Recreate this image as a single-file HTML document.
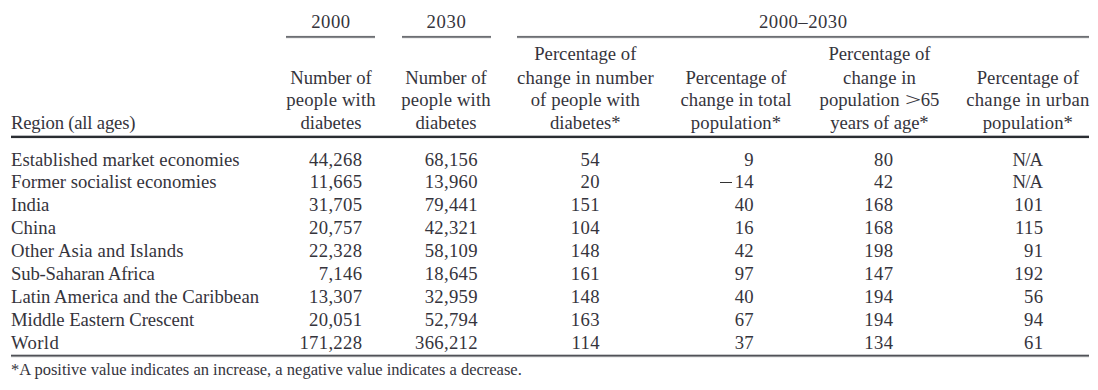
<!DOCTYPE html>
<html><head><meta charset="utf-8"><style>
html,body{margin:0;padding:0;background:#fff;width:1098px;height:390px;overflow:hidden;position:relative}
.t{position:absolute;font-family:"Liberation Serif",serif;color:#35343c;white-space:nowrap;line-height:normal}
.gt{display:inline-block;transform:scaleX(1.55);margin:0 2.6px 0 3.4px}
.r{position:absolute}
</style></head><body>

<div class="t" style="left:30.95px;width:600px;top:11.04px;font-size:18.7px;text-align:center;letter-spacing:0.5px;">2000</div>
<div class="t" style="left:146.50px;width:600px;top:11.04px;font-size:18.7px;text-align:center;letter-spacing:0.6px;">2030</div>
<div class="t" style="left:503.25px;width:600px;top:11.04px;font-size:18.7px;text-align:center;letter-spacing:0.5px;">2000–2030</div>
<div class="t" style="left:11.00px;top:112.04px;font-size:18.7px;letter-spacing:-0.2px;">Region (all ages)</div>
<div class="t" style="left:31.00px;width:600px;top:67.04px;font-size:18.7px;text-align:center;">Number of</div>
<div class="t" style="left:31.08px;width:600px;top:89.04px;font-size:18.7px;text-align:center;letter-spacing:0.16px;">people with</div>
<div class="t" style="left:31.00px;width:600px;top:112.04px;font-size:18.7px;text-align:center;">diabetes</div>
<div class="t" style="left:146.00px;width:600px;top:67.04px;font-size:18.7px;text-align:center;">Number of</div>
<div class="t" style="left:146.08px;width:600px;top:89.04px;font-size:18.7px;text-align:center;letter-spacing:0.16px;">people with</div>
<div class="t" style="left:146.00px;width:600px;top:112.04px;font-size:18.7px;text-align:center;">diabetes</div>
<div class="t" style="left:285.30px;width:600px;top:43.04px;font-size:18.7px;text-align:center;">Percentage of</div>
<div class="t" style="left:285.39px;width:600px;top:67.04px;font-size:18.7px;text-align:center;letter-spacing:0.19px;">change in number</div>
<div class="t" style="left:285.35px;width:600px;top:89.04px;font-size:18.7px;text-align:center;letter-spacing:0.1px;">of people with</div>
<div class="t" style="left:285.30px;width:600px;top:112.04px;font-size:18.7px;text-align:center;">diabetes*</div>
<div class="t" style="left:435.95px;width:600px;top:67.04px;font-size:18.7px;text-align:center;letter-spacing:-0.1px;">Percentage of</div>
<div class="t" style="left:436.04px;width:600px;top:89.04px;font-size:18.7px;text-align:center;letter-spacing:0.08px;">change in total</div>
<div class="t" style="left:436.05px;width:600px;top:112.04px;font-size:18.7px;text-align:center;letter-spacing:0.1px;">population*</div>
<div class="t" style="left:579.50px;width:600px;top:43.04px;font-size:18.7px;text-align:center;">Percentage of</div>
<div class="t" style="left:579.55px;width:600px;top:67.04px;font-size:18.7px;text-align:center;letter-spacing:0.1px;">change in</div>
<div class="t" style="left:579.50px;width:600px;top:89.04px;font-size:18.7px;text-align:center;">population <span class="gt">&gt;</span>65</div>
<div class="t" style="left:579.45px;width:600px;top:112.04px;font-size:18.7px;text-align:center;letter-spacing:-0.1px;">years of age*</div>
<div class="t" style="left:727.80px;width:600px;top:67.04px;font-size:18.7px;text-align:center;">Percentage of</div>
<div class="t" style="left:727.94px;width:600px;top:89.04px;font-size:18.7px;text-align:center;letter-spacing:0.28px;">change in urban</div>
<div class="t" style="left:727.85px;width:600px;top:112.04px;font-size:18.7px;text-align:center;letter-spacing:0.1px;">population*</div>
<div class="t" style="left:11.00px;top:149.04px;font-size:18.7px;letter-spacing:0.05px;">Established market economies</div>
<div class="t" style="left:0;width:362.30px;top:149.04px;font-size:18.7px;text-align:right;letter-spacing:0.3px;">44,268</div>
<div class="t" style="left:0;width:477.90px;top:149.04px;font-size:18.7px;text-align:right;letter-spacing:0.3px;">68,156</div>
<div class="t" style="left:0;width:599.80px;top:149.04px;font-size:18.7px;text-align:right;letter-spacing:0.3px;">54</div>
<div class="t" style="left:0;width:754.00px;top:149.04px;font-size:18.7px;text-align:right;letter-spacing:0.3px;">9</div>
<div class="t" style="left:0;width:893.30px;top:149.04px;font-size:18.7px;text-align:right;letter-spacing:0.3px;">80</div>
<div class="t" style="left:0;width:1042.10px;top:149.04px;font-size:18.7px;text-align:right;letter-spacing:-0.9px;">N/A</div>
<div class="t" style="left:11.00px;top:171.04px;font-size:18.7px;">Former socialist economies</div>
<div class="t" style="left:0;width:362.30px;top:171.04px;font-size:18.7px;text-align:right;letter-spacing:0.3px;">11,665</div>
<div class="t" style="left:0;width:477.90px;top:171.04px;font-size:18.7px;text-align:right;letter-spacing:0.3px;">13,960</div>
<div class="t" style="left:0;width:599.80px;top:171.04px;font-size:18.7px;text-align:right;letter-spacing:0.3px;">20</div>
<div class="t" style="left:0;width:754.00px;top:171.04px;font-size:18.7px;text-align:right;letter-spacing:0.3px;">14</div>
<div class="t" style="left:0;width:893.30px;top:171.04px;font-size:18.7px;text-align:right;letter-spacing:0.3px;">42</div>
<div class="t" style="left:0;width:1042.10px;top:171.04px;font-size:18.7px;text-align:right;letter-spacing:-0.9px;">N/A</div>
<div class="t" style="left:11.00px;top:194.04px;font-size:18.7px;">India</div>
<div class="t" style="left:0;width:362.30px;top:194.04px;font-size:18.7px;text-align:right;letter-spacing:0.3px;">31,705</div>
<div class="t" style="left:0;width:477.90px;top:194.04px;font-size:18.7px;text-align:right;letter-spacing:0.3px;">79,441</div>
<div class="t" style="left:0;width:599.80px;top:194.04px;font-size:18.7px;text-align:right;letter-spacing:0.3px;">151</div>
<div class="t" style="left:0;width:754.00px;top:194.04px;font-size:18.7px;text-align:right;letter-spacing:0.3px;">40</div>
<div class="t" style="left:0;width:893.30px;top:194.04px;font-size:18.7px;text-align:right;letter-spacing:0.3px;">168</div>
<div class="t" style="left:0;width:1043.30px;top:194.04px;font-size:18.7px;text-align:right;letter-spacing:0.3px;">101</div>
<div class="t" style="left:11.00px;top:217.04px;font-size:18.7px;letter-spacing:0.1px;">China</div>
<div class="t" style="left:0;width:362.30px;top:217.04px;font-size:18.7px;text-align:right;letter-spacing:0.3px;">20,757</div>
<div class="t" style="left:0;width:477.90px;top:217.04px;font-size:18.7px;text-align:right;letter-spacing:0.3px;">42,321</div>
<div class="t" style="left:0;width:599.80px;top:217.04px;font-size:18.7px;text-align:right;letter-spacing:0.3px;">104</div>
<div class="t" style="left:0;width:754.00px;top:217.04px;font-size:18.7px;text-align:right;letter-spacing:0.3px;">16</div>
<div class="t" style="left:0;width:893.30px;top:217.04px;font-size:18.7px;text-align:right;letter-spacing:0.3px;">168</div>
<div class="t" style="left:0;width:1043.30px;top:217.04px;font-size:18.7px;text-align:right;letter-spacing:0.3px;">115</div>
<div class="t" style="left:11.00px;top:240.04px;font-size:18.7px;letter-spacing:0.13px;">Other Asia and Islands</div>
<div class="t" style="left:0;width:362.30px;top:240.04px;font-size:18.7px;text-align:right;letter-spacing:0.3px;">22,328</div>
<div class="t" style="left:0;width:477.90px;top:240.04px;font-size:18.7px;text-align:right;letter-spacing:0.3px;">58,109</div>
<div class="t" style="left:0;width:599.80px;top:240.04px;font-size:18.7px;text-align:right;letter-spacing:0.3px;">148</div>
<div class="t" style="left:0;width:754.00px;top:240.04px;font-size:18.7px;text-align:right;letter-spacing:0.3px;">42</div>
<div class="t" style="left:0;width:893.30px;top:240.04px;font-size:18.7px;text-align:right;letter-spacing:0.3px;">198</div>
<div class="t" style="left:0;width:1043.30px;top:240.04px;font-size:18.7px;text-align:right;letter-spacing:0.3px;">91</div>
<div class="t" style="left:11.00px;top:263.04px;font-size:18.7px;letter-spacing:-0.18px;">Sub-Saharan Africa</div>
<div class="t" style="left:0;width:362.30px;top:263.04px;font-size:18.7px;text-align:right;letter-spacing:0.3px;">7,146</div>
<div class="t" style="left:0;width:477.90px;top:263.04px;font-size:18.7px;text-align:right;letter-spacing:0.3px;">18,645</div>
<div class="t" style="left:0;width:599.80px;top:263.04px;font-size:18.7px;text-align:right;letter-spacing:0.3px;">161</div>
<div class="t" style="left:0;width:754.00px;top:263.04px;font-size:18.7px;text-align:right;letter-spacing:0.3px;">97</div>
<div class="t" style="left:0;width:893.30px;top:263.04px;font-size:18.7px;text-align:right;letter-spacing:0.3px;">147</div>
<div class="t" style="left:0;width:1043.30px;top:263.04px;font-size:18.7px;text-align:right;letter-spacing:0.3px;">192</div>
<div class="t" style="left:11.00px;top:286.04px;font-size:18.7px;">Latin America and the Caribbean</div>
<div class="t" style="left:0;width:362.30px;top:286.04px;font-size:18.7px;text-align:right;letter-spacing:0.3px;">13,307</div>
<div class="t" style="left:0;width:477.90px;top:286.04px;font-size:18.7px;text-align:right;letter-spacing:0.3px;">32,959</div>
<div class="t" style="left:0;width:599.80px;top:286.04px;font-size:18.7px;text-align:right;letter-spacing:0.3px;">148</div>
<div class="t" style="left:0;width:754.00px;top:286.04px;font-size:18.7px;text-align:right;letter-spacing:0.3px;">40</div>
<div class="t" style="left:0;width:893.30px;top:286.04px;font-size:18.7px;text-align:right;letter-spacing:0.3px;">194</div>
<div class="t" style="left:0;width:1043.30px;top:286.04px;font-size:18.7px;text-align:right;letter-spacing:0.3px;">56</div>
<div class="t" style="left:11.00px;top:309.04px;font-size:18.7px;letter-spacing:-0.07px;">Middle Eastern Crescent</div>
<div class="t" style="left:0;width:362.30px;top:309.04px;font-size:18.7px;text-align:right;letter-spacing:0.3px;">20,051</div>
<div class="t" style="left:0;width:477.90px;top:309.04px;font-size:18.7px;text-align:right;letter-spacing:0.3px;">52,794</div>
<div class="t" style="left:0;width:599.80px;top:309.04px;font-size:18.7px;text-align:right;letter-spacing:0.3px;">163</div>
<div class="t" style="left:0;width:754.00px;top:309.04px;font-size:18.7px;text-align:right;letter-spacing:0.3px;">67</div>
<div class="t" style="left:0;width:893.30px;top:309.04px;font-size:18.7px;text-align:right;letter-spacing:0.3px;">194</div>
<div class="t" style="left:0;width:1043.30px;top:309.04px;font-size:18.7px;text-align:right;letter-spacing:0.3px;">94</div>
<div class="t" style="left:11.00px;top:332.04px;font-size:18.7px;letter-spacing:0.37px;">World</div>
<div class="t" style="left:0;width:362.30px;top:332.04px;font-size:18.7px;text-align:right;letter-spacing:0.3px;">171,228</div>
<div class="t" style="left:0;width:477.90px;top:332.04px;font-size:18.7px;text-align:right;letter-spacing:0.3px;">366,212</div>
<div class="t" style="left:0;width:599.80px;top:332.04px;font-size:18.7px;text-align:right;letter-spacing:0.3px;">114</div>
<div class="t" style="left:0;width:754.00px;top:332.04px;font-size:18.7px;text-align:right;letter-spacing:0.3px;">37</div>
<div class="t" style="left:0;width:893.30px;top:332.04px;font-size:18.7px;text-align:right;letter-spacing:0.3px;">134</div>
<div class="t" style="left:0;width:1043.30px;top:332.04px;font-size:18.7px;text-align:right;letter-spacing:0.3px;">61</div>
<div class="t" style="left:11.00px;top:359.90px;font-size:16.5px;">*A positive value indicates an increase, a negative value indicates a decrease.</div>
<div class="r" style="left:286px;width:89.00px;top:35px;height:1px;background:#f2f2f2"></div>
<div class="r" style="left:286px;width:89.00px;top:36px;height:1px;background:#6d6f73"></div>
<div class="r" style="left:286px;width:89.00px;top:37px;height:1px;background:#85878b"></div>
<div class="r" style="left:286px;width:89.00px;top:38px;height:1px;background:#eeeeee"></div>
<div class="r" style="left:401.5px;width:89.00px;top:35px;height:1px;background:#f2f2f2"></div>
<div class="r" style="left:401.5px;width:89.00px;top:36px;height:1px;background:#6d6f73"></div>
<div class="r" style="left:401.5px;width:89.00px;top:37px;height:1px;background:#85878b"></div>
<div class="r" style="left:401.5px;width:89.00px;top:38px;height:1px;background:#eeeeee"></div>
<div class="r" style="left:517px;width:572.00px;top:35px;height:1px;background:#f2f2f2"></div>
<div class="r" style="left:517px;width:572.00px;top:36px;height:1px;background:#6d6f73"></div>
<div class="r" style="left:517px;width:572.00px;top:37px;height:1px;background:#85878b"></div>
<div class="r" style="left:517px;width:572.00px;top:38px;height:1px;background:#eeeeee"></div>
<div class="r" style="left:11px;width:1078.00px;top:135px;height:1px;background:#b8babd"></div>
<div class="r" style="left:11px;width:1078.00px;top:136px;height:2px;background:#2a2d32"></div>
<div class="r" style="left:11px;width:1078.00px;top:138px;height:1px;background:#ececec"></div>
<div class="r" style="left:11px;width:1078.00px;top:354px;height:1px;background:#c8c9cb"></div>
<div class="r" style="left:11px;width:1078.00px;top:355px;height:1px;background:#505257"></div>
<div class="r" style="left:11px;width:1078.00px;top:356px;height:1px;background:#8f9194"></div>
<div class="r" style="left:11px;width:1078.00px;top:357px;height:1px;background:#eeeeee"></div>
<div class="r" style="left:720.2px;width:12.30px;top:181.8px;height:1.2px;background:#333"></div>
</body></html>
